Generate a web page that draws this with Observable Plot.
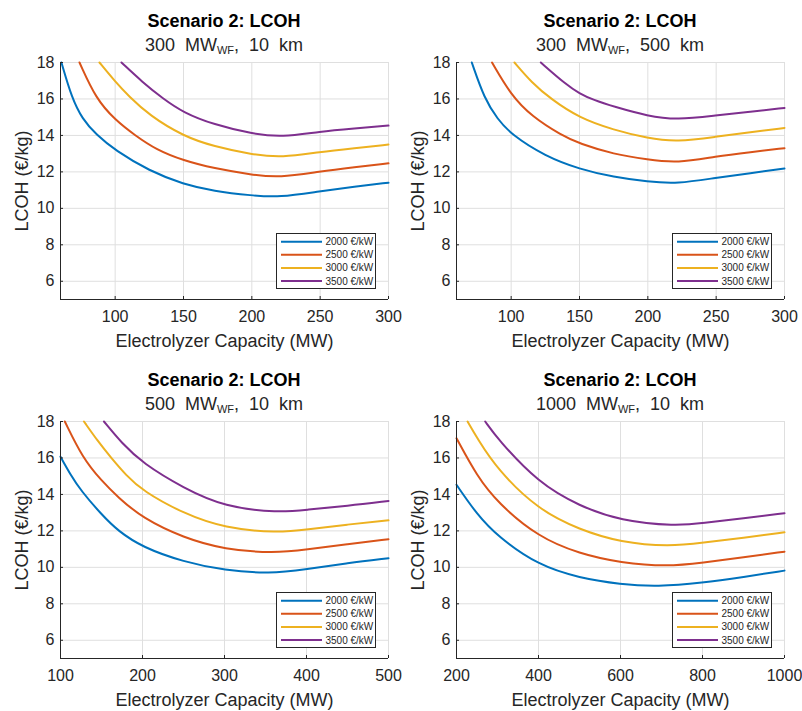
<!DOCTYPE html>
<html>
<head>
<meta charset="utf-8">
<script src="https://cdn.jsdelivr.net/npm/d3@7"></script>
<script src="https://cdn.jsdelivr.net/npm/@observablehq/plot@0.6"></script>
<style>
  body { margin: 0; background: #fff; }
  #chart { position: relative; width: 802px; height: 711px; font-family: "Liberation Sans", Arial, Helvetica, sans-serif; overflow: hidden; }
  .title { position: absolute; text-align: center; font-size: 18px; line-height: 18px; font-weight: bold; color: #000; white-space: pre; }
  .sub { position: absolute; text-align: center; font-size: 18px; line-height: 18px; color: #262626; white-space: pre; }
  .sub span { font-size: 11px; line-height: 0; position: relative; top: 3px; }
  .panel { position: absolute; }
  .panel svg [aria-label="x-axis label"], .panel svg [aria-label="y-axis label"] { font-size: 18px; }
  .legend { position: absolute; }
</style>
</head>
<body>
<div id="chart"></div>
<script>
// ---- data ----
const series = ["2000 €/kW", "2500 €/kW", "3000 €/kW", "3500 €/kW"];
const colors = ["#0072BD", "#D95319", "#EDB120", "#7E2F8E"];
const yTicks = [6, 8, 10, 12, 14, 16, 18];
const yDomain = [5, 18];

// Panel 1: 300 MW_WF, 10 km
const p1_2000 = [[60.7,18],[68.3,16.05],[76,14.9],[86,14.05],[100,13.18],[125,12.05],[150,11.32],[172,10.95],[200,10.7],[220,10.6],[250,10.94],[275,11.18],[300,11.41]];
const p1_2500 = [[73.9,18],[86,16.0],[100,14.85],[114.6,14.0],[130,13.22],[150,12.62],[172,12.2],[200,11.84],[220,11.68],[250,12.02],[275,12.25],[300,12.47]];
const p1_3000 = [[88.5,18],[100,16.95],[110,16.15],[125,15.1],[150,13.95],[172,13.4],[200,12.95],[222,12.78],[250,13.1],[275,13.3],[300,13.5]];
const p1_3500 = [[104.6,18],[120,16.92],[135,16.02],[150,15.25],[172,14.6],[200,14.09],[222,13.9],[250,14.22],[275,14.38],[300,14.54]];

// Panel 2: 300 MW_WF, 500 km
const p2_2000 = [[71.2,18],[80.5,16],[90,14.9],[100,14.05],[125,12.85],[150,12.15],[175,11.71],[200,11.46],[221.5,11.34],[250,11.68],[275,11.93],[300,12.18]];
const p2_2500 = [[86,18],[100,16.2],[115,15.05],[137,14.0],[150,13.55],[175,12.97],[200,12.67],[221.5,12.48],[250,12.85],[275,13.08],[300,13.3]];
const p2_3000 = [[102.4,18],[115,16.9],[129,16.0],[150,14.95],[175,14.3],[200,13.84],[221.5,13.65],[250,13.93],[275,14.17],[300,14.41]];
const p2_3500 = [[121.7,18],[140,16.8],[150,16.3],[160,15.95],[175,15.58],[200,15.06],[221.5,14.85],[250,15.1],[275,15.3],[300,15.51]];

// Panel 3: 500 MW_WF, 10 km
const p3_2000 = [[100,16.07],[112,15.1],[125,14.2],[150,12.9],[170,12.0],[200,11.1],[250,10.3],[300,9.83],[355,9.65],[400,9.9],[450,10.23],[500,10.5]];
const p3_2500 = [[105.3,18],[127,16],[150,14.75],[170,13.85],[200,12.7],[250,11.62],[300,10.98],[360,10.78],[400,10.97],[450,11.27],[500,11.54]];
const p3_3000 = [[128.6,18],[145,16.95],[161,16.05],[180,15.05],[200,14.2],[250,12.95],[300,12.15],[365,11.89],[400,12.08],[450,12.35],[500,12.58]];
const p3_3500 = [[153,18],[175,16.8],[200,15.72],[250,14.35],[300,13.32],[366,13.0],[400,13.16],[450,13.37],[500,13.64]];

// Panel 4: 1000 MW_WF, 10 km
const p4_2000 = [[200,14.53],[250,12.9],[300,11.7],[400,10.1],[500,9.42],[600,9.07],[690,8.94],[800,9.15],[900,9.47],[1000,9.82]];
const p4_2500 = [[200,17.08],[250,15.0],[300,13.55],[400,11.65],[500,10.75],[600,10.25],[715,10.04],[800,10.25],[900,10.55],[1000,10.86]];
const p4_3000 = [[227,18],[250,17.1],[300,15.35],[400,13.15],[500,12.07],[600,11.37],[720,11.14],[800,11.35],[900,11.62],[1000,11.92]];
const p4_3500 = [[270,18],[300,17.05],[400,14.62],[500,13.36],[600,12.55],[735,12.26],[800,12.42],[900,12.7],[1000,12.97]];

const titleText = "Scenario 2: LCOH";
const windFarm = ["300", "300", "500", "1000"];
const distance = ["10", "500", "10", "10"];
const xDomains = [[60, 300], [60, 300], [100, 500], [200, 1000]];
const xTicks = [[100,150,200,250,300],[100,150,200,250,300],[100,200,300,400,500],[200,400,600,800,1000]];
const xLabel = "Electrolyzer Capacity (MW)";
const yLabel = "LCOH (€/kg)";
const panelSeries = [
  [p1_2000, p1_2500, p1_3000, p1_3500],
  [p2_2000, p2_2500, p2_3000, p2_3500],
  [p3_2000, p3_2500, p3_3000, p3_3500],
  [p4_2000, p4_2500, p4_3000, p4_3500]
];

// ---- layout ----
const plotW = 328, plotH = 237;
const ML = 56, MR = 14, MT = 12, MB = 56;
const plotLefts = [60, 456, 60, 456];
const plotTops = [62, 62, 421, 421];
const font = '"Liberation Sans", Arial, Helvetica, sans-serif';
const chart = document.getElementById("chart");

panelSeries.forEach((sets, p) => {
  const data = [];
  sets.forEach((pts, i) => pts.forEach(([x, y]) => data.push({x, y, s: series[i]})));

  const fig = Plot.plot({
    width: ML + plotW + MR,
    height: MT + plotH + MB,
    marginLeft: ML, marginRight: MR, marginTop: MT, marginBottom: MB,
    style: {fontFamily: font, fontSize: "16px", color: "#262626", background: "none", overflow: "visible"},
    x: {domain: xDomains[p]},
    y: {domain: yDomain},
    color: {domain: series, range: colors},
    marks: [
      Plot.gridX(xTicks[p], {stroke: "#dfdfdf", strokeOpacity: 1}),
      Plot.gridY(yTicks, {stroke: "#dfdfdf", strokeOpacity: 1}),
      Plot.line(data, {x: "x", y: "y", z: "s", stroke: "s", strokeWidth: 2, curve: "basis"}),
      Plot.ruleX([xDomains[p][0]], {stroke: "#262626", strokeWidth: 1}),
      Plot.ruleY([yDomain[0]], {stroke: "#262626", strokeWidth: 1}),
      Plot.axisX(xTicks[p], {tickSize: -3, tickPadding: 14, tickFormat: d => String(d), label: xLabel, labelAnchor: "center", labelOffset: 47, labelArrow: "none"}),
      Plot.axisY(yTicks, {tickSize: -3, tickPadding: 9, tickFormat: d => String(d), label: yLabel, labelAnchor: "center", labelOffset: 45, labelArrow: "none"})
    ]
  });

  const wrap = document.createElement("div");
  wrap.className = "panel";
  wrap.style.left = (plotLefts[p] - ML) + "px";
  wrap.style.top = (plotTops[p] - MT) + "px";
  wrap.style.width = (ML + plotW + MR) + "px";
  wrap.appendChild(fig);
  chart.appendChild(wrap);

  const t = document.createElement("div");
  t.className = "title";
  t.style.left = plotLefts[p] + "px";
  t.style.width = plotW + "px";
  t.style.top = (plotTops[p] - 50) + "px";
  t.textContent = titleText;
  chart.appendChild(t);

  const s = document.createElement("div");
  s.className = "sub";
  s.style.left = plotLefts[p] + "px";
  s.style.width = plotW + "px";
  s.style.top = (plotTops[p] - 26.2) + "px";
  s.innerHTML = windFarm[p] + "  MW<span>WF</span>,  " + distance[p] + "  km";
  chart.appendChild(s);

  // legend box
  const lw = 100, lh = 56;
  const leg = d3.create("svg").attr("class", "legend").attr("width", lw).attr("height", lh)
    .style("left", (plotLefts[p] + plotW - 12 - lw) + "px")
    .style("top", (plotTops[p] + plotH - 10 - lh) + "px");
  leg.append("rect").attr("x", 0.5).attr("y", 0.5).attr("width", lw - 1).attr("height", lh - 1)
    .attr("fill", "#fff").attr("stroke", "#262626").attr("stroke-width", 1);
  series.forEach((name, i) => {
    const yy = 8.7 + i * 13.1;
    leg.append("line").attr("x1", 5).attr("x2", 46).attr("y1", yy).attr("y2", yy)
      .attr("stroke", colors[i]).attr("stroke-width", 2);
    leg.append("text").attr("x", 49.5).attr("y", yy).attr("dy", "0.35em")
      .attr("font-family", font).attr("font-size", 10).attr("fill", "#262626").text(name);
  });
  chart.appendChild(leg.node());
});
</script>
</body>
</html>
